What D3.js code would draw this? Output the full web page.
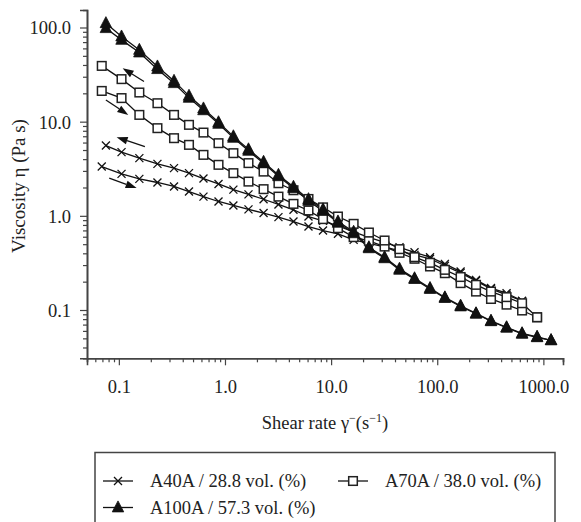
<!DOCTYPE html>
<html><head><meta charset="utf-8">
<script src="https://cdn.jsdelivr.net/npm/d3@7"></script>
<style>
body{margin:0;background:#fff}
svg{display:block}
text{font-family:"Liberation Serif","Times New Roman",serif;fill:#222}
</style>
</head><body><svg id="c" width="581" height="522"></svg>
<script>
// ---- data ----
const shearGrid = [0.106,0.156,0.231,0.331,0.458,0.627,0.869,1.20,1.665,2.31,3.19,4.42,6.12,8.39,11.6,16.3,22.7,31.9,44.1,61.1,85.5,118,166,232,321,450,630,873,1182];
const firstRateA40up = 0.069, firstRateA40down = 0.0755;
const firstRateA70 = 0.069, firstRateA100 = 0.0755;

const etaA40up   = [3.34,2.79,2.47,2.26,2.05,1.81,1.60,1.42,1.29,1.17,1.07,0.969,0.870,0.770,0.698,0.644,0.556,0.511,0.469,0.425,0.385,0.350,0.295,0.248,0.204,0.168,0.145,0.125];
const etaA40down = [5.58,4.75,4.10,3.56,3.21,2.84,2.49,2.18,1.90,1.69,1.50,1.32,1.16,0.983,0.885,0.783,0.676,0.591,0.523,0.463,0.410,0.364,0.309,0.256,0.209,0.171,0.151,0.125];
const etaA70down = [39.1,28.3,20.4,15.7,11.8,9.25,7.66,5.91,4.63,3.63,2.95,2.22,1.87,1.51,1.23,0.983,0.822,0.665,0.547,0.443,0.364,0.317,0.267,0.224,0.185,0.157,0.137,0.118,0.0837];
const etaA70up   = [21.2,17.8,11.8,8.53,6.68,5.67,4.44,3.48,2.84,2.31,1.92,1.60,1.34,1.14,0.923,0.740,0.594,0.543,0.472,0.405,0.350,0.290,0.246,0.193,0.157,0.131,0.114,0.0988,0.0837];
const etaA100down= [111,80.1,57.8,38.5,27.1,18.8,13.8,9.84,6.98,5.08,3.74,2.72,2.03,1.50,1.17,0.870,0.676,0.463,0.363,0.274,0.217,0.171,0.136,0.111,0.0922,0.0768,0.0655,0.0566,0.0519,0.0477];
const etaA100up  = [98.3,73.9,54.2,36.1,25.6,17.9,13.2,9.48,6.73,4.90,3.61,2.63,1.96,1.44,1.13,0.843,0.652,0.452,0.354,0.267,0.213,0.167,0.134,0.109,0.0912,0.0759,0.0648,0.0558,0.0513,0.0477];

const xTickValues = [0.1,1,10,100,1000];
const xTickLabels = ["0.1","1.0","10.0","100.0","1000.0"];
const yTickValues = [0.1,1,10,100];
const yTickLabels = ["0.1","1.0","10.0","100.0"];

const legendLabels = ["A40A / 28.8 vol. (%)","A70A / 38.0 vol. (%)","A100A / 57.3 vol. (%)"];
const legendSymbols = ["cross","square","triangle"];

// arrows (data coords): [from rate, from eta, to rate, to eta]
const arrowsData = [
  [0.1725,26.7,0.1086,37.0],
  [0.0755,17.0,0.1227,11.8],
  [0.176,5.44,0.0953,6.85],
  [0.0812,2.51,0.147,1.97]
];

// ---- build series ----
function mk(first, etas){ const r=[first].concat(shearGrid); return etas.map((e,i)=>[r[i],e]); }
const series = [
  {sym:"cross",   pts: mk(firstRateA40up, etaA40up)},
  {sym:"cross",   pts: mk(firstRateA40down, etaA40down)},
  {sym:"square",  pts: mk(firstRateA70, etaA70up)},
  {sym:"square",  pts: mk(firstRateA70, etaA70down)},
  {sym:"triangle",pts: mk(firstRateA100, etaA100up)},
  {sym:"triangle",pts: mk(firstRateA100, etaA100down)}
];

const svg = d3.select("#c");
const x = d3.scaleLog().domain([0.0501,1531]).range([87,563]);
const y = d3.scaleLog().domain([0.0307,153.4]).range([358.3,10]);
const axisCol = "#444";

function minors(lo,hi){const a=[];for(let e=-2;e<=3;e++){for(let m=2;m<=9;m++){const v=m*Math.pow(10,e);if(v>=lo&&v<=hi)a.push(v);}}return a;}

const gx = svg.append("g").attr("transform","translate(0,358.3)");
gx.call(d3.axisBottom(x).tickValues(minors(0.0501,1531)).tickSize(4).tickFormat(""));
const gx2 = svg.append("g").attr("transform","translate(0,358.3)");
gx2.call(d3.axisBottom(x).tickValues(xTickValues).tickSize(7).tickFormat((d,i)=>xTickLabels[i]));
gx2.selectAll("text").attr("y",28).attr("dy","0.35em").style("font-size","18.5px");

const gy = svg.append("g").attr("transform","translate(87,0)");
gy.call(d3.axisLeft(y).tickValues(minors(0.0307,153.4)).tickSize(4).tickFormat(""));
const gy2 = svg.append("g").attr("transform","translate(87,0)");
gy2.call(d3.axisLeft(y).tickValues(yTickValues).tickSize(7).tickFormat((d,i)=>yTickLabels[i]));
gy2.selectAll("text").attr("x",-16).attr("dy","0.35em").style("font-size","18.5px");

[gx,gx2,gy,gy2].forEach(g=>{
  g.selectAll("path.domain").attr("stroke",axisCol).attr("stroke-width",1.6);
  g.selectAll("line").attr("stroke",axisCol).attr("stroke-width",1.2);
  g.selectAll("text").attr("fill","#222").style("font-family","Liberation Serif");
});

// axis titles
svg.append("text").attr("transform","translate(18,186) rotate(-90)")
  .attr("text-anchor","middle").attr("dy","0.35em").style("font-size","19px")
  .text("Viscosity η (Pa s)");
const xt = svg.append("text").attr("x",325).attr("y",429).attr("text-anchor","middle").style("font-size","18.5px");
xt.append("tspan").text("Shear rate γ");
xt.append("tspan").attr("dy",-7).style("font-size","12px").text("−");
xt.append("tspan").attr("dy",7).text("(s");
xt.append("tspan").attr("dy",-7).style("font-size","12px").text("−1");
xt.append("tspan").attr("dy",7).text(")");

// lines
const line = d3.line().x(d=>x(d[0])).y(d=>y(d[1]));
const plot = svg.append("g");
plot.selectAll("path.s").data(series).join("path").attr("class","s")
  .attr("d",d=>line(d.pts)).attr("fill","none").attr("stroke","#111").attr("stroke-width",1.3);

// markers
function drawMarker(g,sym,cx,cy){
  if(sym==="cross"){
    const s=4;
    g.append("path").attr("d",`M${cx-s},${cy-s}L${cx+s},${cy+s}M${cx-s},${cy+s}L${cx+s},${cy-s}`)
      .attr("stroke","#111").attr("stroke-width",1.3).attr("fill","none");
  } else if(sym==="square"){
    const s=4.3;
    g.append("rect").attr("x",cx-s).attr("y",cy-s).attr("width",2*s).attr("height",2*s)
      .attr("fill","#fff").attr("stroke","#222").attr("stroke-width",1.5);
  } else {
    const h=11, w=11.5;
    g.append("path").attr("d",`M${cx},${cy-h*0.6}L${cx+w/2},${cy+h*0.4}L${cx-w/2},${cy+h*0.4}Z`)
      .attr("fill","#111").attr("stroke","#111").attr("stroke-width",0.8);
  }
}
const mg = svg.append("g");
series.forEach(s=>s.pts.forEach(p=>drawMarker(mg,s.sym,x(p[0]),y(p[1]))));

// arrows
const ag = svg.append("g");
arrowsData.forEach(a=>{
  const x1=x(a[0]),y1=y(a[1]),x2=x(a[2]),y2=y(a[3]);
  const dx=x2-x1,dy=y2-y1,L=Math.hypot(dx,dy),ux=dx/L,uy=dy/L;
  const hl=11,hw=3.8;
  const bx=x2-ux*hl,by=y2-uy*hl;
  ag.append("line").attr("x1",x1).attr("y1",y1).attr("x2",bx).attr("y2",by).attr("stroke","#111").attr("stroke-width",1.3);
  ag.append("path").attr("d",`M${x2},${y2}L${bx-uy*hw},${by+ux*hw}L${bx+uy*hw},${by-ux*hw}Z`).attr("fill","#111");
});

// legend
const lg = svg.append("g");
lg.append("rect").attr("x",95).attr("y",452.5).attr("width",460).attr("height",100)
  .attr("fill","none").attr("stroke",axisCol).attr("stroke-width",1.5);
const legPos = [[103,481],[338,481],[103,507.5]];
legendLabels.forEach((lab,i)=>{
  const [lx,ly]=legPos[i];
  lg.append("line").attr("x1",lx).attr("x2",lx+30).attr("y1",ly).attr("y2",ly).attr("stroke","#111").attr("stroke-width",1.3);
  drawMarker(lg,legendSymbols[i],lx+15,ly);
  lg.append("text").attr("x",lx+47).attr("y",ly).attr("dy","0.35em").style("font-size","18.5px").text(lab);
});
</script>
</body></html>
